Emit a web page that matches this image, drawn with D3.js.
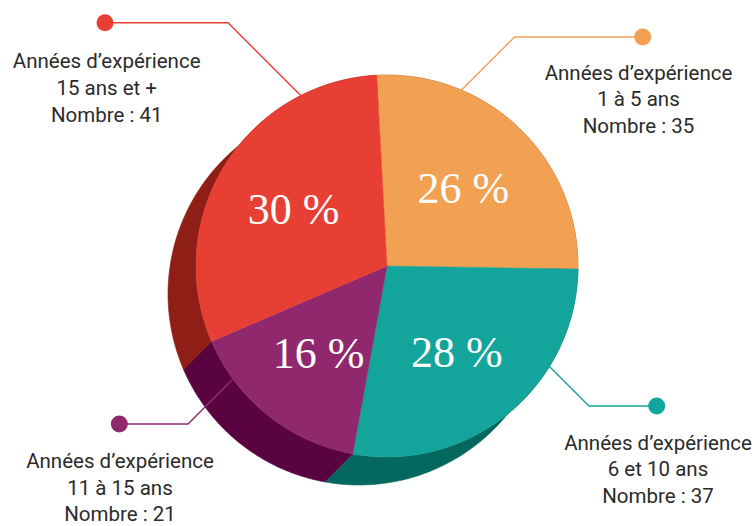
<!DOCTYPE html>
<html>
<head>
<meta charset="utf-8">
<script src="https://cdn.jsdelivr.net/npm/d3@7"></script>
<style>
  html, body { margin: 0; padding: 0; background: #ffffff; }
  svg { display: block; }
</style>
</head>
<body>
<svg id="chart" width="754" height="526"></svg>
<script>
// ---- data ----
const categories = ["1 à 5 ans", "6 et 10 ans", "11 à 15 ans", "15 ans et +"];
const counts = [35, 37, 21, 41];
const percentLabels = ["26 %", "28 %", "16 %", "30 %"];
const headerLabel = "Années d’expérience";
const countPrefix = "Nombre : ";

// ---- style ----
const mainColors = ["#F2A152", "#13A59B", "#8F286C", "#E83F35"];
const darkColors = ["#A8652A", "#04685E", "#5A0341", "#8E1E16"];

const cx = 387, cy = 266, R = 191;
const depth = [-28, 28];
const startDeg = -3.1;

const svg = d3.select("#chart");
const wallLayer = svg.append("g").attr("transform", `translate(${cx},${cy})`);

const data = categories.map((c, i) => ({ cat: c, count: counts[i], pct: percentLabels[i], i }));

const pie = d3.pie()
  .sort(null)
  .value(d => d.count)
  .startAngle(startDeg * Math.PI / 180)
  .endAngle((startDeg + 360) * Math.PI / 180);
const arcs = pie(data);

const arcGen = d3.arc().innerRadius(0).outerRadius(R);

// side walls (extrusion)
function wallPath(a) {
  const n = 80;
  const pts = [];
  for (let k = 0; k <= n; k++) {
    const t = a.startAngle + (a.endAngle - a.startAngle) * k / n;
    pts.push([Math.sin(t) * R, -Math.cos(t) * R]);
  }
  const back = pts.slice().reverse().map(p => [p[0] + depth[0], p[1] + depth[1]]);
  return d3.line()(pts.concat(back)) + "Z";
}

wallLayer.selectAll("path.wall")
  .data(arcs)
  .join("path")
  .attr("class", "wall")
  .attr("d", wallPath)
  .attr("fill", d => darkColors[d.data.i])
  .attr("stroke", d => darkColors[d.data.i])
  .attr("stroke-width", 0.6);

// leader lines (drawn beneath the pie top)
const leaders = [
  { i: 0, pts: [[642.7, 37], [514.5, 37], [436, 115.5]], dot: [642.7, 37] },
  { i: 1, pts: [[656.7, 406], [589, 406], [540, 357]], dot: [656.7, 406] },
  { i: 2, pts: [[119.3, 424], [188, 424], [262, 350]], dot: [119.3, 424] },
  { i: 3, pts: [[105, 22.7], [228, 22.7], [310, 104.7]], dot: [105, 22.7] }
];
const lg = svg.append("g");
leaders.forEach(L => {
  lg.append("path")
    .attr("d", d3.line()(L.pts))
    .attr("fill", "none")
    .attr("stroke", mainColors[L.i])
    .attr("stroke-width", 1.4);
  lg.append("circle")
    .attr("cx", L.dot[0]).attr("cy", L.dot[1]).attr("r", 8.5)
    .attr("fill", mainColors[L.i]);
});

// pie top
const pieTop = svg.append("g").attr("transform", `translate(${cx},${cy})`);
pieTop.selectAll("path.slice")
  .data(arcs)
  .join("path")
  .attr("class", "slice")
  .attr("d", arcGen)
  .attr("fill", d => mainColors[d.data.i])
  .attr("stroke", d => mainColors[d.data.i])
  .attr("stroke-width", 0.5);

// percentage labels
const pctArc = d3.arc().innerRadius(110).outerRadius(110);
pieTop.selectAll("text.pct")
  .data(arcs)
  .join("text")
  .attr("class", "pct")
  .attr("transform", d => `translate(${pctArc.centroid(d)})`)
  .attr("text-anchor", "middle")
  .attr("dy", "0.36em")
  .attr("fill", "#ffffff")
  .style("font-family", "'Liberation Serif', 'Times New Roman', serif")
  .style("font-size", "44px")
  .text(d => d.data.pct);

// category annotations
const annot = [
  { i: 0, x: 638.5, y: 79.5 },
  { i: 1, x: 658, y: 449.5 },
  { i: 2, x: 120, y: 468 },
  { i: 3, x: 106.7, y: 68.3 }
];
const ag = svg.append("g")
  .style("font-family", "Roboto, 'Noto Sans', sans-serif")
  .style("font-size", "20.5px")
  .attr("fill", "#2b2b2b");
annot.forEach(A => {
  const d = data[A.i];
  const t = ag.append("text").attr("text-anchor", "middle");
  [headerLabel, d.cat, countPrefix + d.count].forEach((s, k) => {
    t.append("tspan").attr("x", A.x).attr("y", A.y + k * 26.6).text(s);
  });
});
</script>
</body>
</html>
